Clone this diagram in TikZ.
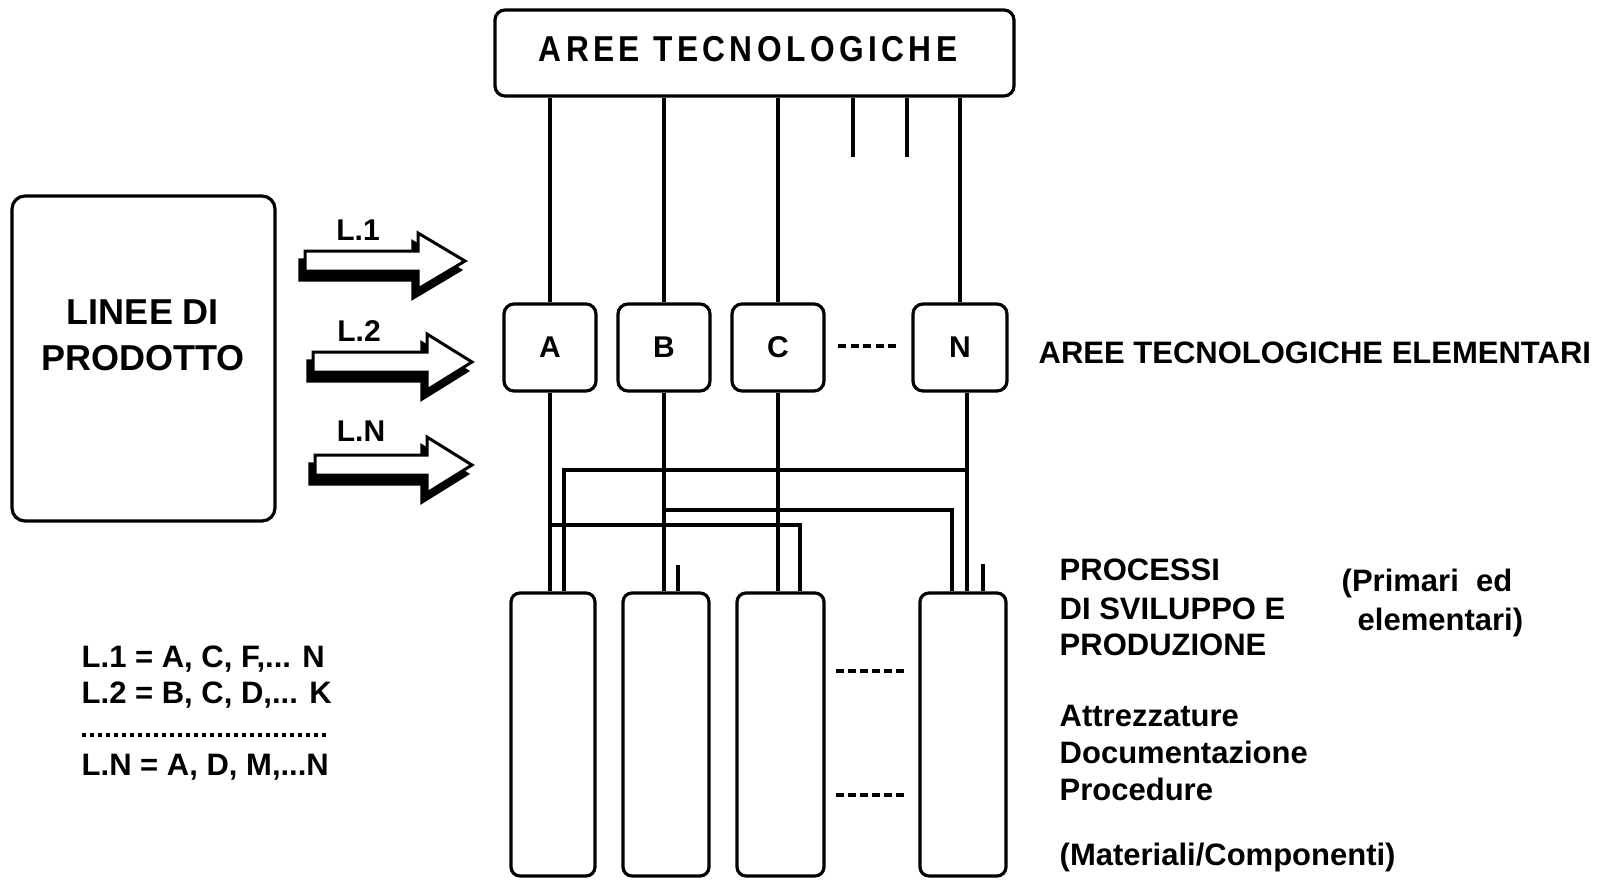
\documentclass[tikz,border=0pt]{standalone}
\usepackage{fontspec}
\setmainfont{Liberation Sans}
\newfontfamily\spacedfont[LetterSpace=14]{Liberation Sans}

% outline of a block arrow: left x, head start x, tip x, centre y
\newcommand\arrowoutline[4]{(#1,#4-10) -- (#2,#4-10) -- (#2,#4-28) -- (#3,#4) -- (#2,#4+28) -- (#2,#4+10) -- (#1,#4+10) -- cycle}
% block arrow with a solid shadow below it
\newcommand\flowarrow[4]{%
  \begin{scope}[shift={(-5,9)}]
    \filldraw[black, line width=3.2pt, line join=miter] \arrowoutline{#1}{#2}{#3}{#4};
  \end{scope}
  \filldraw[fill=white, draw=black, line width=3pt, line join=miter] \arrowoutline{#1}{#2}{#3}{#4};
}

\begin{document}
\begin{tikzpicture}[x=1pt, y=-1pt, line width=3.4pt,
  rbox/.style={draw, rounded corners=10pt, inner sep=0pt, line width=3.2pt},
  areabox/.style={rbox, minimum width=92pt, minimum height=87pt, font=\fontsize{30}{34}\selectfont\bfseries},
  procbox/.style={rbox, rounded corners=9pt, minimum height=283pt},
  lbl/.style={inner sep=0pt, anchor=base west, font=\fontsize{31}{36}\selectfont\bfseries},
  arrlbl/.style={inner sep=0pt, anchor=base, font=\fontsize{30}{34}\selectfont\bfseries},
  ellipsis/.style={line width=3.5pt, dash pattern=on 8pt off 4.5pt},
  wire/.style={line width=3.4pt}]
\useasboundingbox (0,0) rectangle (1608,879);

% technology areas header
\node[rbox, minimum width=519pt, minimum height=86pt] (top) at (754.5,53) {};
\node[inner sep=0pt, anchor=base] (toptext) at (748,61)
  {\scalebox{0.88}[1]{\spacedfont\fontsize{36}{40}\selectfont\bfseries AREE TECNOLOGICHE}};

% product lines box
\node[rbox, rounded corners=13pt, minimum width=263pt, minimum height=325pt] (lines) at (143.5,358.5) {};
\node[inner sep=0pt, anchor=base] (lt1) at (143,324) {\fontsize{36}{40}\selectfont\bfseries LINEE DI};
\node[inner sep=0pt, anchor=base] (lt2) at (143,370) {\fontsize{36}{40}\selectfont\bfseries PRODOTTO};

% product line arrows
\flowarrow{305}{418}{465}{261}
\flowarrow{313}{427}{472}{362}
\flowarrow{315}{427}{472}{465}
\node[arrlbl] (l1) at (358,240) {L.1};
\node[arrlbl] (l2) at (359,341) {L.2};
\node[arrlbl] (ln) at (361,441) {L.N};

% elementary technology areas
\node[areabox] (A) at (550,347.5) {A};
\node[areabox] (B) at (664,347.5) {B};
\node[areabox] (C) at (778,347.5) {C};
\node[areabox, minimum width=94pt] (N) at (960,347.5) {N};
\draw[ellipsis] (838,346) -- (900,346);
\node[lbl] (ate) at (1037,363) {AREE TECNOLOGICHE ELEMENTARI};

% process columns
\node[procbox, minimum width=84pt] (PA) at (553,734.5) {};
\node[procbox, minimum width=86pt] (PB) at (666,734.5) {};
\node[procbox, minimum width=87pt] (PC) at (780.5,734.5) {};
\node[procbox, minimum width=86pt] (PN) at (963,734.5) {};
\draw[ellipsis, dash pattern=on 8pt off 4pt] (836,671) -- (907,671);
\draw[ellipsis, dash pattern=on 8pt off 4pt] (836,795) -- (907,795);

% links from the header
\draw[wire] (top.south -| A) -- (A.north);
\draw[wire] (top.south -| B) -- (B.north);
\draw[wire] (top.south -| C) -- (C.north);
\draw[wire] (top.south -| N) -- (N.north);
\coordinate (s1) at (853,157);
\coordinate (s2) at (907,157);
\draw[wire] (top.south -| s1) -- (s1);
\draw[wire] (top.south -| s2) -- (s2);

% feeders from areas to processes
\coordinate (Nout) at ([xshift=7pt]N.south);
\draw[wire] (A.south) -- (A.south |- PA.north);
\draw[wire] (B.south) -- (B.south |- PB.north);
\draw[wire] (C.south) -- (C.south |- PC.north);
\draw[wire] (Nout) -- (Nout |- PN.north);
\coordinate (k1) at (564,470);
\coordinate (k2) at (952,510);
\coordinate (k3) at (800,525);
\draw[wire] (Nout |- k1) -- (k1) -- (k1 |- PA.north);
\draw[wire] (B.south |- k2) -- (k2) -- (k2 |- PN.north);
\draw[wire] (A.south |- k3) -- (k3) -- (k3 |- PC.north);
\coordinate (t1) at (678,565);
\coordinate (t2) at (983,564);
\draw[wire] (t1) -- (t1 |- PB.north);
\draw[wire] (t2) -- (t2 |- PN.north);

% process descriptions
\node[lbl] (p1) at (1058,580) {PROCESSI};
\node[lbl] (p2) at (1058,619) {DI SVILUPPO E};
\node[lbl] (p3) at (1058,655) {PRODUZIONE};
\node[lbl] (q1) at (1340,591) {(Primari\ \ ed};
\node[lbl] (q2) at (1356,630) {elementari)};
\node[lbl] (r1) at (1058,726) {Attrezzature};
\node[lbl] (r2) at (1058,763) {Documentazione};
\node[lbl] (r3) at (1058,800) {Procedure};
\node[lbl] (r4) at (1058,865) {(Materiali/Componenti)};

% legend
\node[lbl] (g1) at (80,667) {L.1 = A, C, F,... N};
\node[lbl] (g2) at (80,703) {L.2 = B, C, D,... K};
\draw[line width=3.5pt, dash pattern=on 3.5pt off 4.5pt] (82,735) -- (328,735);
\node[lbl] (g3) at (80,775) {L.N = A, D, M,...N};
\end{tikzpicture}
\end{document}
